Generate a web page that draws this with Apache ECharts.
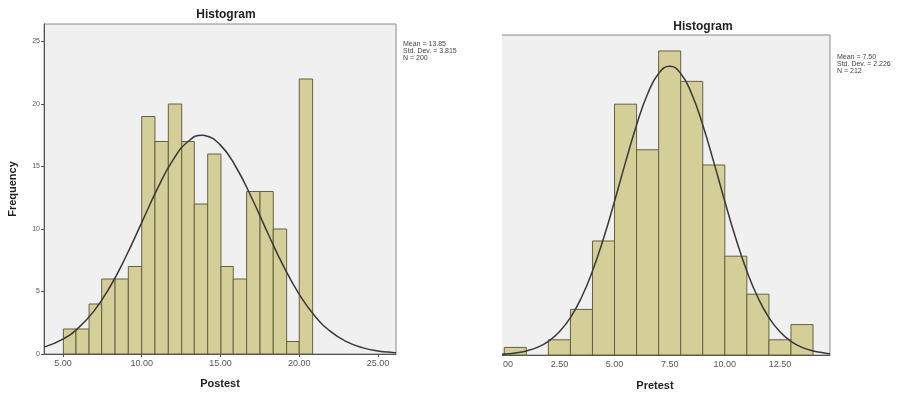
<!DOCTYPE html>
<html>
<head>
<meta charset="utf-8">
<script src="https://cdn.jsdelivr.net/npm/echarts@6/dist/echarts.min.js"></script>
<style>
  html, body { margin: 0; padding: 0; background: #fff; }
  #chart { width: 907px; height: 396px; }
</style>
</head>
<body>
<div id="chart"></div>
<script>
// Postest histogram (left)
const postEdges = [5.03, 5.83, 6.66, 7.46, 8.31, 9.15, 10.0, 10.84, 11.69, 12.54, 13.34,
  14.19, 15.03, 15.81, 16.66, 17.51, 18.35, 19.2, 20.0, 20.85];
const postCounts = [2, 2, 4, 6, 6, 7, 19, 17, 20, 17, 12, 16, 7, 6, 13, 13, 10, 1, 22];
const postCurveX = [3.8, 5, 6, 7, 8, 9, 10, 11, 12, 13, 13.85, 14, 15, 16, 17, 18, 19, 20, 21, 22, 23, 24, 25, 26, 26.14];
const postCurveY = [0.55, 1.19, 2.11, 3.49, 5.40, 7.80, 10.51, 13.23, 15.55, 17.06, 17.5, 17.48, 16.71,
  14.92, 12.44, 9.68, 7.03, 4.77, 3.02, 1.79, 0.99, 0.51, 0.24, 0.11, 0.1];
const postTicksX = [5, 10, 15, 20, 25];
const postTicksY = [0, 5, 10, 15, 20, 25];
const postStats = ['Mean = 13.85', 'Std. Dev. = 3.815', 'N = 200'];

// Pretest histogram (right)
const preEdges = [0, 1, 2, 3, 4, 5, 6, 7, 8, 9, 10, 11, 12, 13, 14];
const preCounts = [1, 0, 2, 6, 15, 33, 27, 40, 36, 25, 13, 8, 2, 4];
const preCurveX = [-1, 0, 0.5, 1, 1.5, 2, 2.5, 3, 3.5, 4, 4.5, 5, 5.5, 6, 6.5, 7, 7.5, 8, 8.5, 9,
  9.5, 10, 10.5, 11, 11.5, 12, 12.5, 13, 13.5, 14, 14.5, 14.77];
const preCurveY = [0.03, 0.13, 0.27, 0.53, 1.01, 1.79, 3.05, 4.92, 7.56, 11.04, 15.32, 20.22, 25.38,
  30.27, 34.34, 37.04, 37.99, 37.04, 34.34, 30.27, 25.38, 20.22, 15.32, 11.04, 7.56, 4.92, 3.05,
  1.79, 1.01, 0.53, 0.27, 0.17];
const preTicksX = [0, 2.5, 5, 7.5, 10, 12.5];
const preStats = ['Mean = 7.50', 'Std. Dev. = 2.226', 'N = 212'];

const font = 'Liberation Sans, Arial, sans-serif';
const barFill = '#d4cf98';
const barLine = '#63623f';
const curveColor = '#383838';

const toBins = (edges, counts) =>
  counts.map((c, i) => [edges[i], edges[i + 1], c]);

const zip = (xs, ys) => xs.map((x, i) => [x, ys[i]]);

const renderBin = (params, api) => {
  const p0 = api.coord([api.value(0), api.value(2)]);
  const p1 = api.coord([api.value(1), 0]);
  if (api.value(2) <= 0) return null;
  return {
    type: 'rect',
    shape: { x: p0[0], y: p0[1], width: p1[0] - p0[0], height: p1[1] - p0[1] },
    style: { fill: barFill, stroke: barLine, lineWidth: 1 }
  };
};

const axisLabelStyle = { color: '#555', fontSize: 9, fontFamily: font };
const nameStyle = { color: '#222', fontSize: 11, fontWeight: 'bold', fontFamily: font };

const statsText = (lines, x, y) => ({
  type: 'text',
  left: x,
  top: y,
  z: 200,
  style: {
    text: lines.join('\n'),
    fill: '#444',
    font: '7px ' + font,
    lineHeight: 7
  }
});

const myChart = echarts.init(document.getElementById('chart'));

const option = {
  backgroundColor: '#fff',
  animation: false,
  title: [
    {
      text: 'Histogram',
      left: 221,
      top: 4,
      textAlign: 'center',
      textStyle: { fontSize: 12, fontWeight: 'bold', color: '#222', fontFamily: font }
    },
    {
      text: 'Histogram',
      left: 698,
      top: 16,
      textAlign: 'center',
      textStyle: { fontSize: 12, fontWeight: 'bold', color: '#222', fontFamily: font }
    }
  ],
  grid: [
    {
      left: 44, top: 24, width: 352, height: 330,
      show: true, backgroundColor: '#f0f0f0', borderColor: '#8a8a8a', borderWidth: 1
    },
    {
      left: 480, top: 35, width: 350, height: 323,
      show: true, backgroundColor: '#f0f0f0', borderColor: '#8a8a8a', borderWidth: 1
    }
  ],
  xAxis: [
    {
      type: 'value',
      gridIndex: 0,
      min: 3.8,
      max: 26.14,
      name: 'Postest',
      nameLocation: 'middle',
      nameGap: 24,
      nameTextStyle: nameStyle,
      axisLine: { show: true, lineStyle: { color: '#555' } },
      axisTick: { show: true, length: 3, customValues: postTicksX, lineStyle: { color: '#555' } },
      axisLabel: Object.assign({ customValues: postTicksX, margin: 5, formatter: v => v.toFixed(2) }, axisLabelStyle),
      splitLine: { show: false }
    },
    {
      type: 'value',
      gridIndex: 1,
      min: -1.1,
      max: 14.77,
      name: 'Pretest',
      nameLocation: 'middle',
      nameGap: 25,
      nameTextStyle: nameStyle,
      axisLine: { show: true, lineStyle: { color: '#555' } },
      axisTick: { show: false },
      axisLabel: Object.assign({ customValues: preTicksX, margin: 5, formatter: v => v.toFixed(2) }, axisLabelStyle),
      splitLine: { show: false }
    }
  ],
  yAxis: [
    {
      type: 'value',
      gridIndex: 0,
      min: 0,
      max: 26.4,
      name: 'Frequency',
      nameLocation: 'middle',
      nameGap: 26,
      nameRotate: 90,
      nameTextStyle: nameStyle,
      axisLine: { show: true, lineStyle: { color: '#555' } },
      axisTick: { show: true, length: 3, customValues: postTicksY, lineStyle: { color: '#555' } },
      axisLabel: Object.assign({ customValues: postTicksY, margin: 4 }, axisLabelStyle, { fontSize: 7 }),
      splitLine: { show: false }
    },
    {
      type: 'value',
      gridIndex: 1,
      min: 0,
      max: 42.1,
      axisLine: { show: false },
      axisTick: { show: false },
      axisLabel: { show: false },
      splitLine: { show: false }
    }
  ],
  graphic: [
    // the right chart is cut off at its left edge in the source image
    {
      type: 'rect',
      left: 474,
      top: 0,
      z: 150,
      shape: { width: 28, height: 396 },
      style: { fill: '#fff' }
    },
    statsText(postStats, 403, 41),
    statsText(preStats, 837, 54)
  ],
  series: [
    {
      type: 'custom',
      xAxisIndex: 0,
      yAxisIndex: 0,
      renderItem: renderBin,
      encode: { x: [0, 1], y: 2 },
      data: toBins(postEdges, postCounts)
    },
    {
      type: 'line',
      xAxisIndex: 0,
      yAxisIndex: 0,
      smooth: true,
      showSymbol: false,
      lineStyle: { color: curveColor, width: 1.5 },
      data: zip(postCurveX, postCurveY),
      z: 5
    },
    {
      type: 'custom',
      xAxisIndex: 1,
      yAxisIndex: 1,
      renderItem: renderBin,
      encode: { x: [0, 1], y: 2 },
      data: toBins(preEdges, preCounts)
    },
    {
      type: 'line',
      xAxisIndex: 1,
      yAxisIndex: 1,
      smooth: true,
      showSymbol: false,
      lineStyle: { color: curveColor, width: 1.5 },
      data: zip(preCurveX, preCurveY),
      z: 5
    }
  ]
};

myChart.setOption(option, true);

window.addEventListener('resize', () => {
  myChart.resize();
});
</script>
</body>
</html>
